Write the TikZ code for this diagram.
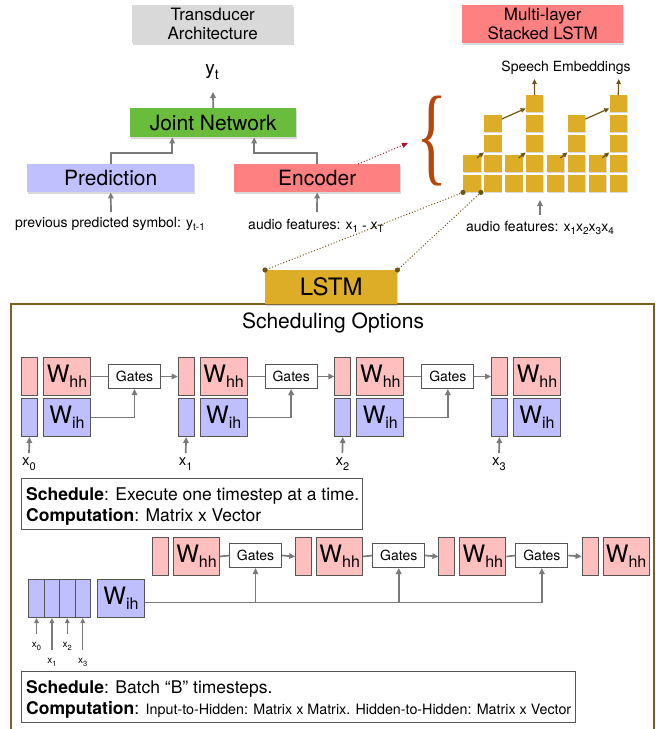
\documentclass[tikz,border=0pt]{standalone}
\usepackage{fontspec}
\setmainfont{TeX Gyre Heros}
\newfontfamily\bracefont{Liberation Serif}
\usepackage{graphicx}
\usetikzlibrary{arrows.meta,shadows,calc}
\definecolor{grayT}{HTML}{D9D9D9}
\definecolor{jointG}{HTML}{6ABD3C}
\definecolor{predB}{HTML}{C0C0FF}
\definecolor{encR}{HTML}{FF8080}
\definecolor{goldC}{HTML}{DEAD28}
\definecolor{goldA}{HTML}{6E5512}
\definecolor{frameC}{HTML}{7D5F1E}
\definecolor{pinkC}{HTML}{FFBFBF}
\definecolor{blueC}{HTML}{BFBFFF}
\definecolor{connC}{HTML}{7A7A7A}
\definecolor{cellD}{HTML}{555555}
\definecolor{braceC}{HTML}{B5470A}
\definecolor{redA}{HTML}{B0102A}
\newcommand\dsub[3]{\raisebox{-#1}{\fontsize{#2}{#2}\selectfont #3}}
\newcommand\Wlab[1]{\fontsize{24}{24}\selectfont W\dsub{5pt}{16}{#1}}
\begin{document}
\begin{tikzpicture}[x=1pt,y=-1pt,
  conn/.style={draw=connC, line width=1.7pt},
  tip/.style={-{Triangle[length=6pt,width=5.5pt]}},
  gtip/.style={-{Triangle[length=5pt,width=4.5pt]}},
  tbox/.style={inner sep=0pt, anchor=north west, drop shadow={shadow xshift=1.2pt, shadow yshift=-1.5pt, opacity=0.3}},
  cellb/.style={draw=cellD, line width=1pt, inner sep=0pt, anchor=north west},
  gbox/.style={cellb, fill=white, minimum width=52, minimum height=24, font=\fontsize{14}{14}\selectfont},
  gsq/.style={fill=goldC, inner sep=0pt, anchor=north west, minimum width=17.5, minimum height=17, drop shadow={shadow xshift=0.8pt, shadow yshift=-1pt, opacity=0.3}},
  garrow/.style={draw=goldA, line width=1.2pt, -{Triangle[length=5pt,width=4.5pt]}},
  dotl/.style={draw=goldA, line width=1pt, dash pattern=on 1pt off 2pt},
  lbl/.style={anchor=base, inner sep=0pt, font=\fontsize{14}{14}\selectfont},
  txt/.style={anchor=base west, inner sep=0pt, font=\fontsize{17.5}{17.5}\selectfont}
]
\useasboundingbox (0,0) rectangle (656,729);
\clip (0,0) rectangle (656,729);

% ---------- Top left: transducer ----------
\node[tbox, fill=grayT, minimum width=161, minimum height=38, align=center, font=\fontsize{17}{19}\selectfont] (trans) at (132,5) {Transducer\\Architecture};
\node[anchor=base, inner sep=0pt] (yt) at (212,74) {\fontsize{19}{19}\selectfont y\dsub{5pt}{14}{t}};
\coordinate (ytin) at (213,92);
\node[tbox, fill=jointG, minimum width=166, minimum height=29, font=\fontsize{21}{21}\selectfont] (joint) at (130,108) {Joint Network};
\node[tbox, fill=predB, minimum width=167, minimum height=28, font=\fontsize{21}{21}\selectfont] (pred) at (27,164) {Prediction};
\node[tbox, fill=encR, minimum width=166, minimum height=28, font=\fontsize{21}{21}\selectfont] (enc) at (234,164) {Encoder};
\draw[conn,tip] (joint.north) -- (ytin);
\draw[conn,tip] (pred.north) -- ++(0,-11) -| ([xshift=-41pt]joint.south);
\draw[conn,tip] (enc.north) -- ++(0,-11) -| ([xshift=41pt]joint.south);
\coordinate (predin) at (111,212);
\coordinate (encin) at (317,212);
\draw[conn,tip] (predin) -- (pred.south);
\draw[conn,tip] (encin) -- (enc.south);
\node[lbl] (prevlbl) at (110,227) {previous predicted symbol: y\dsub{3.5pt}{10}{t-1}};
\node[lbl] (audlbl) at (316,229) {audio features: x\dsub{3.5pt}{10}{1} \raisebox{-1pt}{-} x\dsub{3.5pt}{10}{T}};

% ---------- Top right: stacked LSTM ----------
\node[tbox, fill=encR, minimum width=161, minimum height=38, align=center, font=\fontsize{17}{19}\selectfont] (multi) at (462,5) {Multi-layer\\Stacked LSTM};
\node[lbl] (speech) at (566,71) {Speech Embeddings};
\foreach \i in {0,...,7} {
  \foreach \j in {0,1} {
    \node[gsq] (c-\i-\j) at ({463+20.9*\i},{175-20*\j}) {};
  }
}
\foreach \i in {1,3,5,7} {
  \foreach \j in {2,3} {
    \node[gsq] (c-\i-\j) at ({463+20.9*\i},{175-20*\j}) {};
  }
}
\foreach \i in {3,7} {
  \node[gsq] (c-\i-4) at ({463+20.9*\i},95) {};
}
\foreach \a/\b in {0/1,2/3,4/5,6/7} {
  \draw[garrow] ([xshift=-4pt,yshift=-3pt]c-\a-1.north east) -- (c-\b-2.south west);
}
\foreach \a/\b in {1/3,5/7} {
  \draw[garrow] ([yshift=-4pt]c-\a-3.north east) -- ([yshift=4pt]c-\b-4.south west);
}
\coordinate (emb1) at (534.5,79);
\coordinate (emb2) at (618.8,79);
\draw[garrow] (c-3-4.north) -- (emb1);
\draw[garrow] (c-7-4.north) -- (emb2);
\coordinate (aud2from) at (540,215);
\coordinate (aud2tip) at (540,200);
\draw[conn,tip] (aud2from) -- (aud2tip);
\node[lbl] (aud2lbl) at (540,231) {audio features: x\dsub{3.5pt}{10}{1}x\dsub{3.5pt}{10}{2}x\dsub{3.5pt}{10}{3}x\dsub{3.5pt}{10}{4}};

% brace and red dotted arrow
\node[text=braceC, inner sep=0pt] (brace) at (432,141) {\resizebox*{31pt}{90pt}{\bracefont\{}};
\coordinate (bracetip) at (408,143);
\draw[redA, line width=1pt, dash pattern=on 1pt off 2pt, -{Triangle[length=6pt,width=5pt]}] ([xshift=41pt]enc.north) -- (bracetip);

% ---------- Frame and LSTM ----------
\draw[frameC, line width=1.5pt] (11,304) rectangle (654,760);
\node[tbox, fill=goldC, minimum width=132, minimum height=34, font=\fontsize{24}{24}\selectfont] (lstm) at (265,270) {LSTM};
\draw[dotl] (c-0-0.south west) -- (lstm.north west);
\draw[dotl] (c-0-0.south east) -- (lstm.north east);
\foreach \p in {c-0-0.south west, c-0-0.south east, lstm.north west, lstm.north east} {
  \fill[goldA] (\p) circle[radius=2.6pt];
}
\node[anchor=base, inner sep=0pt, font=\fontsize{21}{21}\selectfont] (schedtitle) at (333,328) {Scheduling Options};

% ---------- Row 1: one timestep at a time ----------
\foreach \i in {0,...,3} {
  \pgfmathsetmacro\xx{21+156.67*\i}
  \node[cellb, fill=pinkC, minimum width=16, minimum height=38] (p-\i) at (\xx,357) {};
  \node[cellb, fill=blueC, minimum width=16, minimum height=38] (b-\i) at (\xx,398) {};
  \node[cellb, fill=pinkC, minimum width=47, minimum height=38] (whh-\i) at ({\xx+22},357) {\Wlab{hh}};
  \node[cellb, fill=blueC, minimum width=47, minimum height=38] (wih-\i) at ({\xx+22},398) {\Wlab{ih}};
  \coordinate (xin-\i) at ({\xx+8},453);
  \draw[conn,tip] (xin-\i) -- (b-\i.south);
  \node[anchor=base, inner sep=0pt] (xl-\i) at ({\xx+8},465) {\fontsize{15}{15}\selectfont x\dsub{5pt}{11}{\i}};
}
\foreach \i in {0,1,2} {
  \pgfmathsetmacro\xx{21+156.67*\i}
  \pgfmathtruncatemacro\nx{\i+1}
  \node[gbox] (g-\i) at ({\xx+87},364) {Gates};
  \draw[conn] (whh-\i.east) -- (g-\i.west);
  \draw[conn,tip] (g-\i.east) -- (p-\nx.west);
  \draw[conn,tip] (wih-\i.east) -| (g-\i.south);
}
\node[draw=cellD, line width=1pt, inner sep=0pt, anchor=north west, minimum width=341, minimum height=51] (sched1) at (21,478) {};
\node[txt] (s1a) at (26,500) {\textbf{Schedule}: Execute one timestep at a time.};
\node[txt] (s1b) at (26,521) {\textbf{Computation}: Matrix x Vector};

% ---------- Row 2: batch ----------
\foreach \k in {0,...,3} {
  \pgfmathsetmacro\xx{152+143.2*\k}
  \node[cellb, fill=pinkC, minimum width=16, minimum height=38] (pp-\k) at (\xx,537) {};
  \node[cellb, fill=pinkC, minimum width=46, minimum height=38] (wb-\k) at ({\xx+21},537) {\Wlab{hh}};
}
\foreach \k in {0,1,2} {
  \pgfmathsetmacro\xx{152+143.2*\k}
  \pgfmathtruncatemacro\nx{\k+1}
  \node[gbox] (gb-\k) at ({\xx+77},543) {Gates};
  \draw[conn] (wb-\k.east) -- (gb-\k.west);
  \draw[conn,tip] (gb-\k.east) -- (pp-\nx.west);
}
\foreach \j in {0,...,3} {
  \node[cellb, fill=blueC, minimum width=15.4, minimum height=38] (bb-\j) at ({28.3+15.4*\j},579) {};
}
\node[cellb, fill=blueC, minimum width=47, minimum height=38] (wibt) at (97,579) {\Wlab{ih}};
\coordinate (hline) at ([yshift=-4pt]wibt.east);
\draw[conn,tip] (hline) -| (gb-2.south);
\draw[conn,tip] (hline -| gb-0.south) -- (gb-0.south);
\draw[conn,tip] (hline -| gb-1.south) -- (gb-1.south);
\foreach \j/\yy/\by in {0/634/647,1/650/663,2/634/647,3/650/663} {
  \coordinate (bin-\j) at (bb-\j.south |- 0,\yy);
  \draw[conn,gtip,line width=1.3pt] (bin-\j) -- (bb-\j.south);
  \node[anchor=base, inner sep=0pt] (bxl-\j) at (bb-\j.south |- 0,\by) {\fontsize{10}{10}\selectfont x\dsub{3pt}{7.5}{\j}};
}
\node[draw=cellD, line width=1pt, inner sep=0pt, anchor=north west, minimum width=554, minimum height=51] (sched2) at (21,671) {};
\node[txt] (s2a) at (26,693) {\textbf{Schedule}: Batch “B” timesteps.};
\node[txt] (s2b) at (26,714) {\textbf{Computation}: {\fontsize{14.3}{14.3}\selectfont Input-to-Hidden: Matrix x Matrix. Hidden-to-Hidden: Matrix x Vector}};
\end{tikzpicture}
\end{document}
